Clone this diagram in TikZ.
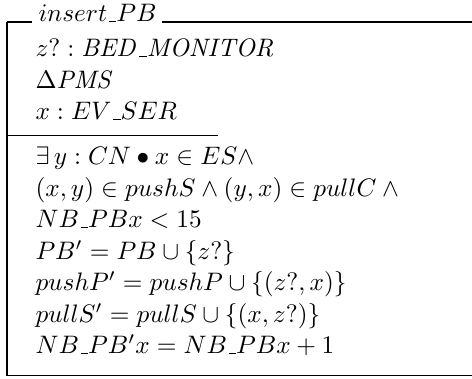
\documentclass[tikz,border=0pt]{standalone}
\usepackage{amsmath}
\usepackage{tikz}

% short Z underscore, as in OT1 fonts
\newcommand{\zus}{\kern.06em\vbox{\hrule width.3em}}

\begin{document}
\begin{tikzpicture}[x=0.3955pt, y=-0.3955pt,
  zline/.style={inner sep=0pt, anchor=base west},
  zrule/.style={line width=0.4pt}]
\useasboundingbox (0,0) rectangle (472,379);
% schema name
\node[zline] (name) at (38,22){$insert\zus PB$};
% declarations
\node[zline] (dclA) at (35,57){$z? : \mathit{BED\zus MONITOR}$};
\node[zline] (dclB) at (35,88.5){$\Delta \mathit{PMS}$};
\node[zline] (dclC) at (35,120){$x : EV\zus SER$};
% predicates
\node[zline] (prdA) at (35,165){$\exists\, y : CN \bullet x \in ES \land$};
\node[zline] (prdB) at (35,196.5){$(x, y) \in pushS \land (y, x) \in pullC \land {}$};
\node[zline] (prdC) at (35,228){$NB\zus PBx < 15$};
\node[zline] (prdD) at (35,259.5){$PB' = PB \cup \{z?\}$};
\node[zline] (prdE) at (35,291){$pushP' = pushP \cup \{(z?, x)\}$};
\node[zline] (prdF) at (35,322.5){$pullS' = pullS \cup \{(x, z?)\}$};
\node[zline] (prdG) at (35,354){$NB\zus PB'x = NB\zus PBx + 1$};
% frame
\coordinate (tl) at (7,22);
\coordinate (tr) at (472,22);
\coordinate (bl) at (7,376);
\coordinate (br) at (472,376);
\draw[zrule] (tl) -- ([xshift=-2.3pt]name.base west);
\draw[zrule] ([xshift=2pt]name.base east) -- (tr);
\draw[zrule] (tl) -- (bl) -- (br);
\draw[zrule] (7,136) -- (218,136);
\end{tikzpicture}
\end{document}
